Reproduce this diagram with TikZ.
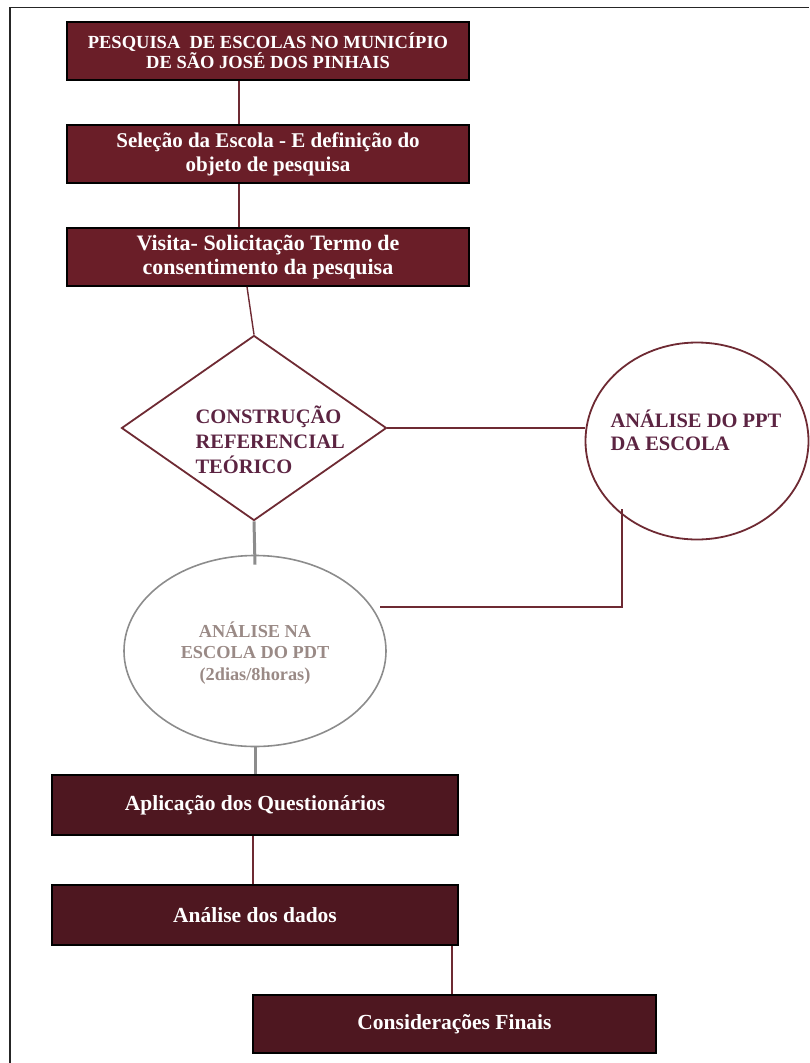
\documentclass[tikz,border=0pt]{standalone}
\usepackage{fontspec}
\setmainfont{Liberation Serif}
\usetikzlibrary{shapes.geometric}
\definecolor{maroonA}{HTML}{6A1E28}
\definecolor{maroonB}{HTML}{4E1720}
\definecolor{lineM}{HTML}{6E2A33}
\definecolor{txtP}{HTML}{5C2442}
\definecolor{txtG}{HTML}{9A8A86}
\definecolor{grayL}{HTML}{8C8C8C}
\tikzset{
  boxA/.style={draw=black, line width=1.6pt, fill=maroonA, minimum width=402pt, minimum height=58pt, text=white, font=\bfseries\fontsize{21}{24}\selectfont, align=center, inner sep=0pt},
  boxB/.style={boxA, fill=maroonB, minimum width=406pt, minimum height=60pt, font=\bfseries\fontsize{21.5}{24}\selectfont},
  conM/.style={draw=lineM, line width=1.4pt},
  conG/.style={draw=grayL, line width=3pt},
}
\begin{document}
\begin{tikzpicture}[x=1pt,y=-1pt]
\useasboundingbox (0,0) rectangle (809,1063);
\draw[line width=1.5pt, black!85] (10,1063) -- (10,7.5) -- (809,7.5);
% boxes
\node[boxA, font=\bfseries\fontsize{18.5}{20}\selectfont] (b1) at (268,51) {PESQUISA\ \ DE ESCOLAS NO MUNICÍPIO\\DE SÃO JOSÉ DOS PINHAIS};
\node[boxA] (b2) at (268,154) {Seleção da Escola - E definição do\\objeto de pesquisa};
\node[boxA, font=\bfseries\fontsize{22}{24}\selectfont] (b3) at (268,257) {Visita- Solicitação Termo de\\consentimento da pesquisa};
% diamond
\node[diamond, draw=lineM, line width=1.8pt, minimum width=265pt, minimum height=185pt, inner sep=0pt, aspect=1.43] (d) at (254,428) {};
\node[anchor=west, text=txtP, font=\bfseries\fontsize{20.5}{25}\selectfont, align=left] (dt) at (192,440) {CONSTRUÇÃO\\REFERENCIAL\\TEÓRICO};
% right circle
\node[ellipse, draw=lineM, line width=1.8pt, minimum width=223pt, minimum height=197pt] (c1) at (697,441) {};
\node[anchor=west, text=txtP, font=\bfseries\fontsize{20.5}{23}\selectfont, align=left] (c1t) at (607,430) {ANÁLISE DO PPT\\DA ESCOLA};
% gray ellipse
\node[ellipse, draw=grayL, line width=1.6pt, minimum width=262pt, minimum height=191pt] (c2) at (255,651) {};
\node[text=txtG, font=\bfseries\fontsize{18.3}{21.5}\selectfont, align=center] (c2t) at (255,653) {ANÁLISE NA\\ESCOLA DO PDT\\(2dias/8horas)};
% lower boxes
\node[boxB] (b4) at (255,805) {Aplicação dos Questionários};
\node[boxB] (b5) at (255,915) {Análise dos dados};
\node[boxB, minimum width=403pt, minimum height=58pt] (b6) at (454.5,1024) {Considerações Finais};
% connectors
\draw[conM] (b1.south -| 239,0) -- (b2.north -| 239,0);
\draw[conM] (b2.south -| 239,0) -- (b3.north -| 239,0);
\draw[conM] ([xshift=-21pt]b3.south) -- (d.north);
\draw[conM] (d.east) -- (d.east -| c1.west);
\coordinate (k1) at (622,509);
\coordinate (k2) at (622,607);
\coordinate (k3) at (380,607);
\draw[conM] (k1) -- (k2) -- (k3);
\draw[conG] (d.south) -- ([yshift=-10pt]c2.north);
\draw[conG] (c2.south) -- (b4.north);
\draw[conM] (b4.south -| 253,0) -- (b5.north -| 253,0);
\draw[conM] (b5.south -| 452,0) -- (b6.north -| 452,0);
\end{tikzpicture}
\end{document}
